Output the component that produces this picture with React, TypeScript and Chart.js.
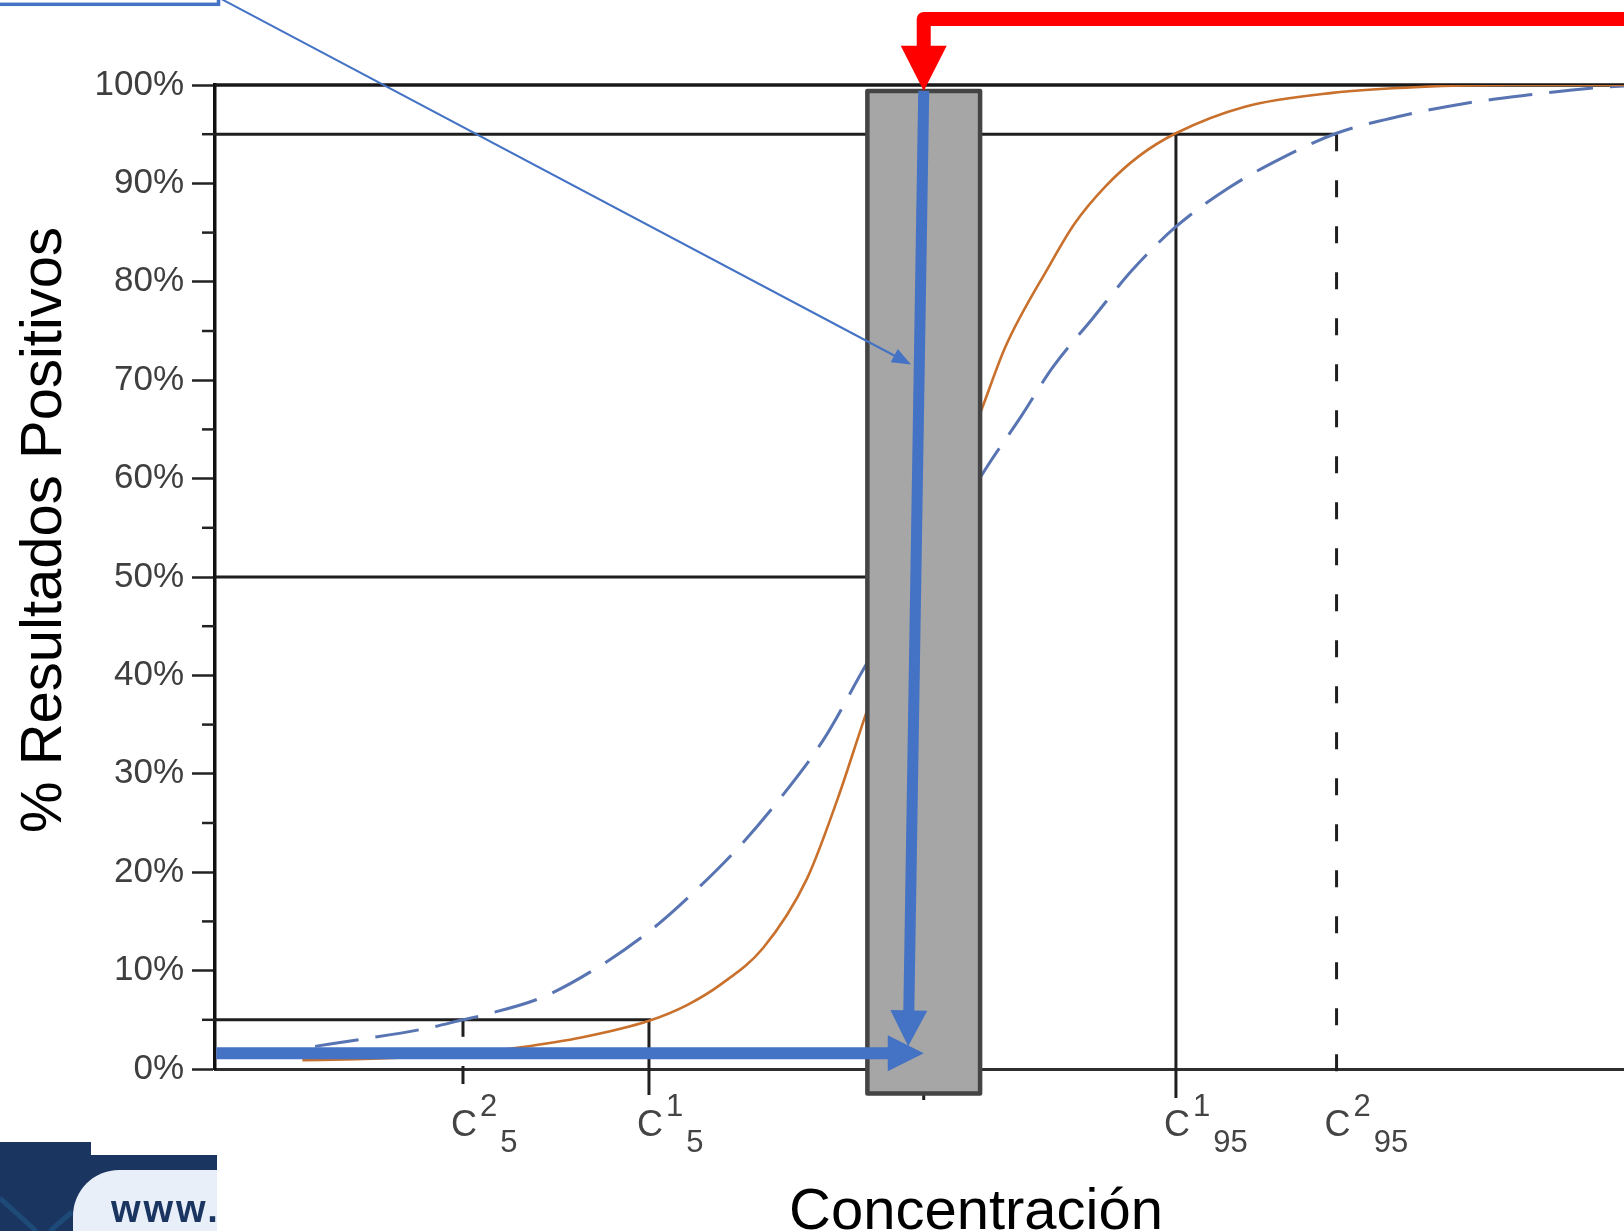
import React, { useEffect, useRef } from 'react';
import { Chart, registerables } from 'chart.js';

Chart.register(...registerables);

const FONT = '"Liberation Sans", Arial, Helvetica, sans-serif';

// Curve 1 (solid orange): concentration (arbitrary units 0-100) vs % positive results
const curve1X = [6.2, 10, 14, 17.6, 21.7, 26, 30.8, 33.5, 35.9, 38.9, 42.0, 44.2, 46.3, 50.3, 54.4, 56.1, 59.2, 61.0, 63.2, 65.6, 68.2, 73.1, 79.3, 85.5, 92, 100];
const curve1Y = [0.9, 1.0, 1.2, 1.5, 2.2, 3.2, 4.9, 6.5, 8.6, 12.3, 19.3, 27.5, 36.5, 52, 67.0, 73.4, 81.6, 85.9, 89.7, 92.8, 95.1, 97.8, 99.2, 99.8, 100, 100];

// Curve 2 (dashed blue)
const curve2X = [7.1, 10.3, 14.9, 17.6, 19.1, 23.25, 27.25, 31.1, 34.3, 37.4, 40.0, 43.2, 46.3, 50.5, 54.7, 57.2, 59.5, 62.3, 65.1, 68.2, 71.9, 75.6, 79.6, 84.0, 88.6, 93.3, 97.9, 100];
const curve2Y = [2.3, 3.0, 4.1, 5.0, 5.5, 7.3, 10.4, 14.3, 18.4, 22.9, 27.3, 33.5, 41.3, 51, 61.0, 66.3, 71.4, 76.3, 81.2, 85.6, 89.5, 92.5, 95.1, 96.8, 98.1, 99.0, 99.7, 99.9];

// Marked concentrations on the x axis
const markerNames = ['C2_5', 'C1_5', 'C1_95', 'C2_95'];
const markerX = [17.6, 30.8, 68.2, 79.6];
const markerSup = ['2', '1', '1', '2'];
const markerSub = ['5', '5', '95', '95'];

// Central (tested) concentration and grey band around it
const centerX = 50.3;
const bandX = [46.3, 54.3];
const bandY = [-2.5, 99.4];

const yTitle = '% Resultados Positivos';
const xTitle = 'Concentración';

function seg(ctx: CanvasRenderingContext2D, x1: number, y1: number, x2: number, y2: number, color: string, w: number, dash: number[] = []) {
  ctx.save();
  ctx.strokeStyle = color;
  ctx.lineWidth = w;
  ctx.setLineDash(dash);
  ctx.beginPath();
  ctx.moveTo(x1, y1);
  ctx.lineTo(x2, y2);
  ctx.stroke();
  ctx.restore();
}

function arrow(ctx: CanvasRenderingContext2D, x1: number, y1: number, x2: number, y2: number, w: number, hl: number, hw: number, color: string) {
  const dx = x2 - x1, dy = y2 - y1;
  const len = Math.hypot(dx, dy);
  const ux = dx / len, uy = dy / len;
  const bx = x2 - ux * hl, by = y2 - uy * hl;
  ctx.save();
  ctx.strokeStyle = color;
  ctx.lineWidth = w;
  ctx.lineCap = 'butt';
  ctx.beginPath();
  ctx.moveTo(x1, y1);
  ctx.lineTo(bx + ux * 2, by + uy * 2);
  ctx.stroke();
  ctx.fillStyle = color;
  ctx.beginPath();
  ctx.moveTo(x2, y2);
  ctx.lineTo(bx - uy * hw / 2, by + ux * hw / 2);
  ctx.lineTo(bx + uy * hw / 2, by - ux * hw / 2);
  ctx.closePath();
  ctx.fill();
  ctx.restore();
}

const annotations = {
  id: 'annotations',
  beforeDatasetsDraw(chart: any) {
    const ctx: CanvasRenderingContext2D = chart.ctx;
    const X = chart.scales.x, Y = chart.scales.y;
    const px = (v: number) => X.getPixelForValue(v);
    const py = (v: number) => Y.getPixelForValue(v);
    const x0 = px(0), y0 = py(0);
    const dark = '#1f1f1f';
    // horizontal reference lines
    seg(ctx, x0, py(100), chart.width, py(100), '#181818', 3.5);
    seg(ctx, x0, py(95), px(markerX[3]) + 1, py(95), dark, 3);
    seg(ctx, x0, py(50), px(bandX[0]), py(50), dark, 3);
    seg(ctx, x0, py(5), px(markerX[1]) + 2, py(5), dark, 3);
    // vertical marker lines
    seg(ctx, px(markerX[0]), py(5), px(markerX[0]), py(5) + 17, dark, 3);
    seg(ctx, px(markerX[0]), y0 - 3, px(markerX[0]), y0 + 15, dark, 3);
    seg(ctx, px(markerX[1]), py(5), px(markerX[1]), y0 + 26, dark, 3);
    seg(ctx, px(markerX[2]), py(95), px(markerX[2]), y0 + 29, dark, 3);
    seg(ctx, px(markerX[3]), py(95), px(markerX[3]), y0 + 29, dark, 3, [17, 29]);
    seg(ctx, px(centerX), y0, px(centerX), y0 + 31, dark, 3);
    // minor ticks on y axis
    for (let v = 5; v < 100; v += 10) seg(ctx, x0 - 13, py(v), x0, py(v), '#222', 2.5);
  },
  afterDatasetsDraw(chart: any) {
    const ctx: CanvasRenderingContext2D = chart.ctx;
    const X = chart.scales.x, Y = chart.scales.y;
    const px = (v: number) => X.getPixelForValue(v);
    const py = (v: number) => Y.getPixelForValue(v);
    const y0 = py(0);

    // grey band
    ctx.save();
    const bx0 = px(bandX[0]), bx1 = px(bandX[1]);
    const by0 = py(bandY[1]), by1 = py(bandY[0]);
    ctx.fillStyle = '#a6a6a6';
    ctx.strokeStyle = '#444444';
    ctx.lineWidth = 4.5;
    ctx.lineJoin = 'round';
    ctx.beginPath();
    ctx.rect(bx0, by0, bx1 - bx0, by1 - by0);
    ctx.fill();
    ctx.stroke();
    ctx.restore();

    const blue = '#4472c4';
    // vertical blue arrow
    arrow(ctx, px(centerX), py(99.4), px(49.2), py(2.3), 11, 36, 37, blue);
    // horizontal blue arrow
    arrow(ctx, px(0.1), py(1.6), px(centerX), py(1.6), 12, 36, 36, blue);
    // thin pointer line from the top-left callout
    arrow(ctx, px(0.5), py(108.7), px(49.4), py(71.6), 2, 19, 15, blue);
    // callout box (partially visible)
    ctx.save();
    ctx.strokeStyle = blue;
    ctx.lineWidth = 3.5;
    ctx.strokeRect(px(-20), py(120), px(0.25) - px(-20), py(108.2) - py(120));
    ctx.restore();

    // red arrow
    ctx.save();
    const red = '#ff0000';
    const xr = px(centerX), yr = py(106.7), yb = py(104.0), tip = py(99.4);
    ctx.strokeStyle = red;
    ctx.lineWidth = 14;
    ctx.lineJoin = 'round';
    ctx.beginPath();
    ctx.moveTo(chart.width + 20, yr);
    ctx.lineTo(xr, yr);
    ctx.lineTo(xr, yb + 2);
    ctx.stroke();
    ctx.fillStyle = red;
    ctx.beginPath();
    ctx.moveTo(xr, tip);
    ctx.lineTo(xr - 23, yb);
    ctx.lineTo(xr + 23, yb);
    ctx.closePath();
    ctx.fill();
    ctx.restore();

    // x marker labels: C with superscript and subscript
    ctx.save();
    ctx.fillStyle = '#444444';
    ctx.textBaseline = 'alphabetic';
    for (let i = 0; i < markerX.length; i++) {
      const cx = px(markerX[i]);
      ctx.font = `36px ${FONT}`;
      const cw = ctx.measureText('C').width;
      ctx.textAlign = 'left';
      ctx.fillText('C', cx - cw / 2 + 1, y0 + 67);
      ctx.font = `31px ${FONT}`;
      const sx = cx + cw / 2 + 4;
      ctx.fillText(markerSup[i], sx, y0 + 47);
      const sw = ctx.measureText(markerSup[i]).width;
      ctx.fillText(markerSub[i], sx + sw + 3, y0 + 83);
    }
    ctx.restore();
  },
  afterDraw(chart: any) {
    const ctx: CanvasRenderingContext2D = chart.ctx;
    ctx.save();
    ctx.fillStyle = '#000000';
    // y title
    ctx.save();
    ctx.translate(61, 530);
    ctx.rotate(-Math.PI / 2);
    ctx.font = `58px ${FONT}`;
    ctx.textAlign = 'center';
    ctx.textBaseline = 'alphabetic';
    ctx.fillText(yTitle, 0, 0);
    ctx.restore();
    // x title
    ctx.font = `58px ${FONT}`;
    ctx.textAlign = 'left';
    ctx.textBaseline = 'alphabetic';
    ctx.fillText(xTitle, 789, 1229);

    // bottom-left logo fragment
    const navy = '#1b3561';
    ctx.fillStyle = navy;
    ctx.fillRect(0, 1142, 91, 89);
    ctx.fillRect(91, 1155, 126, 76);
    ctx.strokeStyle = '#1e4a78';
    ctx.lineWidth = 5;
    ctx.beginPath();
    ctx.moveTo(0, 1198);
    ctx.lineTo(36, 1231);
    ctx.moveTo(72, 1212);
    ctx.lineTo(50, 1231);
    ctx.stroke();
    ctx.beginPath();
    ctx.rect(0, 1100, 217, 131);
    ctx.clip();
    ctx.fillStyle = '#e8eff9';
    ctx.beginPath();
    (ctx as any).roundRect(73, 1170, 220, 110, 46);
    ctx.fill();
    ctx.fillStyle = navy;
    ctx.font = `bold 38px ${FONT}`;
    (ctx as any).letterSpacing = '3px';
    ctx.fillText('www.', 111, 1222);
    ctx.restore();
  },
};

export default function App() {
  const canvasRef = useRef<HTMLCanvasElement | null>(null);
  useEffect(() => {
    if (!canvasRef.current) return;
    const chart = new Chart(canvasRef.current, {
      type: 'line',
      data: {
        datasets: [
          {
            label: 'Curva 1',
            data: curve1X.map((x, i) => ({ x, y: curve1Y[i] })),
            borderColor: '#c9702c',
            borderWidth: 2.6,
            pointRadius: 0,
            fill: false,
            cubicInterpolationMode: 'monotone',
          },
          {
            label: 'Curva 2',
            data: curve2X.map((x, i) => ({ x, y: curve2Y[i] })),
            borderColor: '#5874b2',
            borderWidth: 3,
            borderDash: [44, 17],
            pointRadius: 0,
            fill: false,
            cubicInterpolationMode: 'monotone',
          },
        ],
      },
      options: {
        animation: false,
        responsive: false,
        maintainAspectRatio: false,
        layout: { padding: { top: 85, left: 0, right: 0, bottom: 0 } },
        plugins: { legend: { display: false }, tooltip: { enabled: false } },
        scales: {
          x: {
            type: 'linear',
            min: 0,
            max: 100,
            ticks: { display: false },
            grid: { display: true, drawOnChartArea: false, drawTicks: false },
            border: { display: true, color: '#2e2e2e', width: 3 },
            afterFit: (s: any) => { s.height = 162; },
          },
          y: {
            type: 'linear',
            min: 0,
            max: 100,
            ticks: {
              stepSize: 10,
              autoSkip: false,
              callback: (v: any) => `${v}%`,
              color: '#3f3f3f',
              font: { family: FONT, size: 35 },
              padding: 8,
            },
            grid: { drawOnChartArea: false, tickLength: 23, tickColor: '#222', tickWidth: 2.5, color: '#222' },
            border: { display: true, color: '#111111', width: 3.5 },
            afterFit: (s: any) => { s.width = 215; },
          },
        },
      },
      plugins: [annotations],
    });
    return () => chart.destroy();
  }, []);

  return (
    <div style={{ position: 'absolute', left: 0, top: 0, width: 1624, height: 1231, background: '#fff', overflow: 'hidden' }}>
      <canvas ref={canvasRef} width={1624} height={1231} style={{ display: 'block', width: 1624, height: 1231 }} />
    </div>
  );
}
